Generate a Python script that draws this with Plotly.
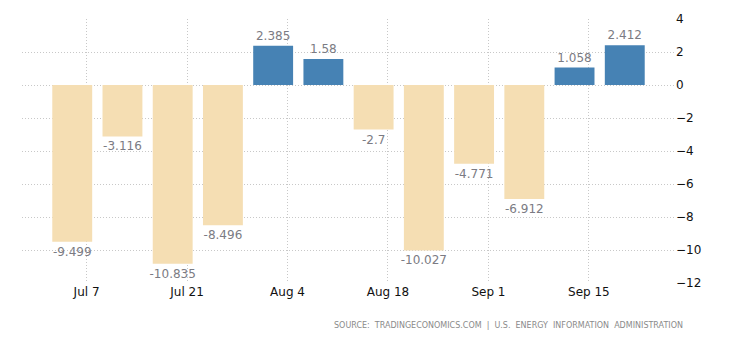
import plotly.graph_objects as go
import pandas as pd

dates = pd.date_range("2023-07-05", periods=12, freq="7D")
values = [-9.499, -3.116, -10.835, -8.496, 2.385, 1.58, -2.7, -10.027, -4.771, -6.912, 1.058, 2.412]
labels = ["-9.499", "-3.116", "-10.835", "-8.496", "2.385", "1.58", "-2.7", "-10.027", "-4.771", "-6.912", "1.058", "2.412"]
tick_dates = ["2023-07-07", "2023-07-21", "2023-08-04", "2023-08-18", "2023-09-01", "2023-09-15"]
tick_text = ["Jul 7", "Jul 21", "Aug 4", "Aug 18", "Sep 1", "Sep 15"]
y_ticks = [4, 2, 0, -2, -4, -6, -8, -10, -12]

colors = ["#4682B4" if v >= 0 else "#F5DEB3" for v in values]

fig = go.Figure(go.Bar(
    x=dates, y=values, text=labels, textposition="outside",
    constraintext="none",
    marker=dict(color=colors, line=dict(width=0)),
    width=5.56 * 86400000,
    textfont=dict(color="#7b7b83", size=12, family="DejaVu Sans"),
    cliponaxis=False,
    hoverinfo="skip",
))

fig.update_layout(
    width=730, height=340,
    margin=dict(l=22, r=55, t=19, b=57),
    plot_bgcolor="white", paper_bgcolor="white",
    showlegend=False,
    font=dict(family="DejaVu Sans", size=12, color="#111111"),
    xaxis=dict(
        range=["2023-06-28", "2023-09-27"],
        tickvals=tick_dates, ticktext=tick_text,
        showgrid=True, gridcolor="#c8c8c8", griddash="1px,2px", gridwidth=1,
        zeroline=False, showline=False, ticks="",
        tickfont=dict(size=12, color="#111111"),
    ),
    yaxis=dict(
        side="right", range=[-12, 4], tickvals=y_ticks,
        showgrid=True, gridcolor="#c8c8c8", griddash="1px,2px", gridwidth=1,
        zeroline=False, showline=False, ticks="",
        tickfont=dict(size=12, color="#111111"),
    ),
    annotations=[dict(
        text="SOURCE:  TRADINGECONOMICS.COM  |  U.S.  ENERGY  INFORMATION  ADMINISTRATION",
        xref="paper", yref="paper", x=1.0, y=-0.16, xanchor="right", yanchor="middle",
        xshift=10,
        showarrow=False, font=dict(size=8, color="#8a8a8a", family="DejaVu Sans"),
    )],
)

fig.write_html("out.html")
